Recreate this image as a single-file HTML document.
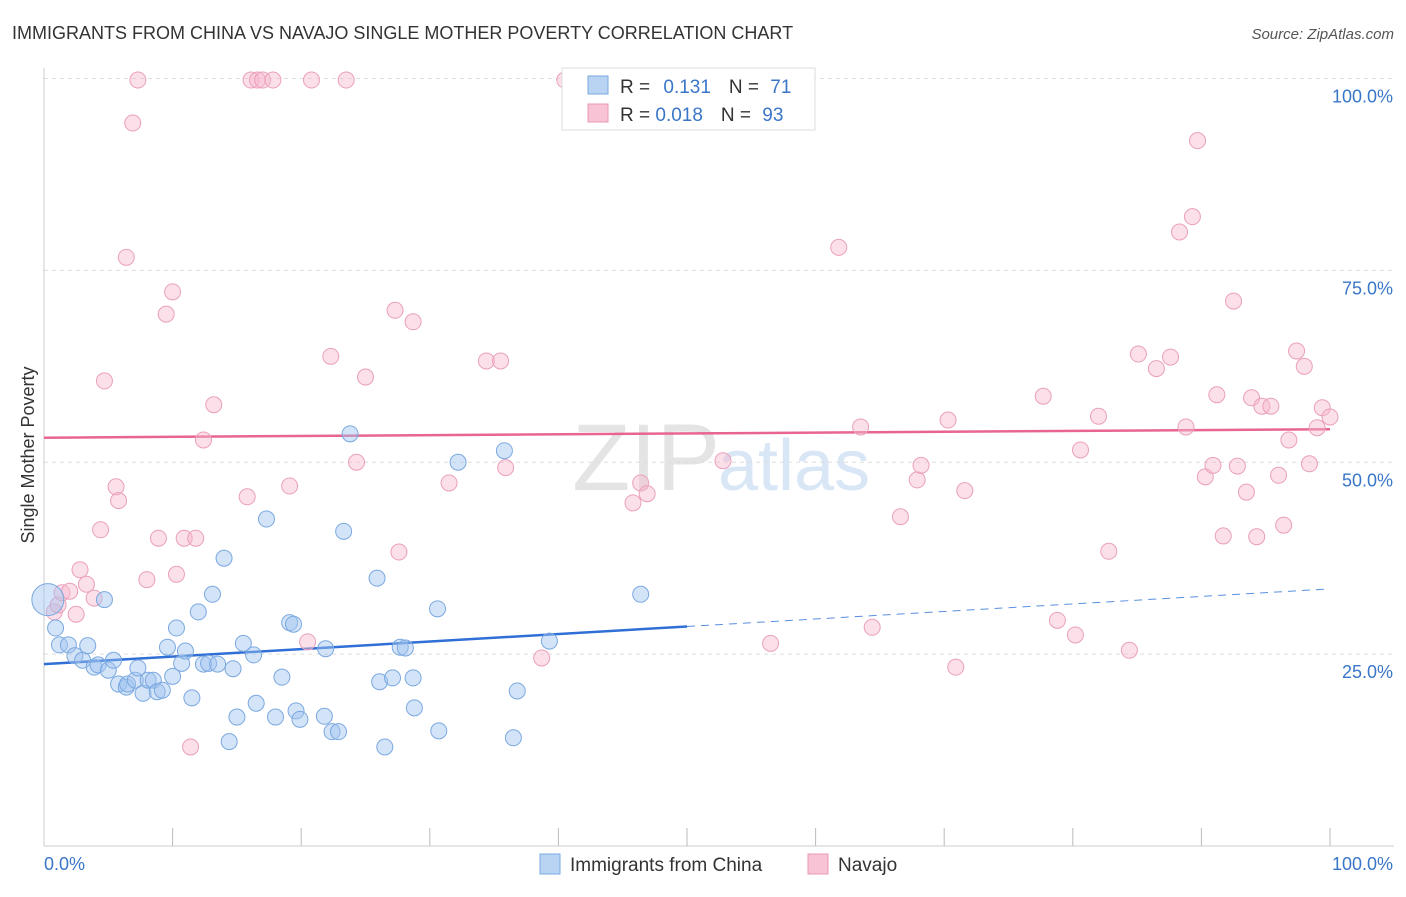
<!DOCTYPE html>
<html><head><meta charset="utf-8"><style>
body{margin:0;background:#fff;font-family:"Liberation Sans",sans-serif;}
svg text{font-family:"Liberation Sans",sans-serif;}
</style></head><body>
<svg id="chart" width="1406" height="892">
<text x="12" y="39" font-size="18" fill="#333">IMMIGRANTS FROM CHINA VS NAVAJO SINGLE MOTHER POVERTY CORRELATION CHART</text>
<text x="1394" y="39" font-size="15" fill="#555" text-anchor="end" font-style="italic">Source: ZipAtlas.com</text>
<text x="720" y="490" font-size="95" fill="#e4e4e4" text-anchor="end" font-family="Liberation Serif">ZIP</text>
<text x="718" y="490" font-size="72" fill="#d8e6f6">atlas</text>
<text transform="translate(34,455) rotate(-90)" font-size="18" fill="#333" text-anchor="middle">Single Mother Poverty</text>
<g id="grid"></g><g id="ticks"></g><g id="lines"></g><g id="pts"></g>
<g>
<rect x="562" y="68" width="253" height="62" fill="#fff" stroke="#ddd"/>
<rect x="588" y="76" width="20" height="18" fill="#b9d3f3" stroke="#7aa8e0"/>
<rect x="588" y="104" width="20" height="18" fill="#f8c3d4" stroke="#e89ab5"/>
<text x="620" y="93" font-size="19" fill="#333">R = <tspan fill="#3a76c8" dx="8">0.131</tspan><tspan dx="18" fill="#333">N = </tspan><tspan fill="#3a76c8" dx="6">71</tspan></text>
<text x="620" y="121" font-size="19" fill="#333">R = <tspan fill="#3a76c8">0.018</tspan><tspan dx="18" fill="#333">N = </tspan><tspan fill="#3a76c8" dx="6">93</tspan></text>
</g>
<g>
<rect x="540" y="854" width="20" height="20" fill="#b9d3f3" stroke="#7aa8e0"/>
<text x="570" y="871" font-size="19" fill="#333">Immigrants from China</text>
<rect x="808" y="854" width="20" height="20" fill="#f8c3d4" stroke="#e89ab5"/>
<text x="838" y="871" font-size="19" fill="#333">Navajo</text>
</g>
</svg>
<script>
const yTicks=[25,50,75,100];
const yTickLabels=["25.0%","50.0%","75.0%","100.0%"];
const xTicks=[0,10,20,30,40,50,60,70,80,90,100];
const blueX=[0.3,0.9,1.2,1.9,2.4,3.0,3.4,3.9,4.2,4.7,5.0,5.4,5.8,6.4,6.5,7.1,7.3,7.7,8.1,8.5,8.8,9.2,9.6,10.0,10.3,10.7,11.0,11.5,12.0,12.4,12.8,13.1,13.5,14.0,14.4,14.7,15.0,15.5,16.3,16.5,17.3,18.0,18.5,19.1,19.4,19.6,19.9,21.8,21.9,22.4,22.9,23.3,23.8,25.9,26.1,26.5,27.1,27.7,28.1,28.7,28.8,30.6,30.7,32.2,35.8,36.5,36.8,39.3,46.4];
const blueY=[32.1,28.4,26.2,26.2,24.8,24.2,26.1,23.3,23.6,32.1,22.9,24.2,21.1,20.7,21.1,21.6,23.2,19.9,21.6,21.6,20.1,20.3,25.9,22.1,28.4,23.8,25.4,19.3,30.5,23.7,23.8,32.8,23.7,37.5,13.6,23.1,16.8,26.4,24.9,18.6,42.6,16.8,22.0,29.1,28.9,17.6,16.5,16.9,25.7,14.9,14.9,41.0,53.7,34.9,21.4,12.9,21.9,25.9,25.8,21.9,18.0,30.9,15.0,50.0,51.5,14.1,20.2,26.7,32.8];
const pinkX=[0.8,1.1,1.4,2.0,2.5,2.8,3.3,3.9,4.4,4.7,5.6,5.8,6.4,6.9,7.3,8.0,8.9,9.5,10.0,10.3,10.9,11.4,11.8,12.4,13.2,15.8,16.1,16.6,17.0,17.8,19.1,20.5,20.8,22.3,23.5,24.3,25.0,27.6,27.3,28.7,31.5,34.4,35.5,35.9,38.7,40.5,45.8,46.4,46.9,52.8,56.5,61.8,63.5,64.4,66.6,67.9,68.2,70.3,70.9,71.6,77.7,78.8,80.2,80.6,82.0,82.8,84.4,85.1,86.5,87.6,88.3,88.8,89.3,89.7,90.3,90.9,91.2,91.7,92.5,92.8,93.5,93.9,94.3,94.7,95.4,96.0,96.4,96.8,97.4,98.0,98.4,99.0,99.4,100.0];
const pinkY=[30.5,31.4,33.0,33.2,30.2,36.0,34.1,32.3,41.2,60.6,46.8,45.0,76.7,94.2,99.8,34.7,40.1,69.3,72.2,35.4,40.1,12.9,40.1,52.9,57.5,45.5,99.8,99.8,99.8,99.8,46.9,26.6,99.8,63.8,99.8,50.0,61.1,38.3,69.8,68.3,47.3,63.2,63.2,49.3,24.5,99.8,44.7,47.3,45.9,50.2,26.4,78.0,54.6,28.5,42.9,47.7,49.6,55.5,23.3,46.3,58.6,29.4,27.5,51.6,56.0,38.4,25.5,64.1,62.2,63.7,80.0,54.6,82.0,91.9,48.1,49.6,58.8,40.4,71.0,49.5,46.1,58.4,40.3,57.3,57.3,48.3,41.8,52.9,64.5,62.5,49.8,54.5,57.1,55.9];
const blueTrend=[23.7,33.5]; // at x=0 and x=100
const pinkTrend=[53.2,54.3];
const NS="http://www.w3.org/2000/svg";
const sx=v=>44+v*12.86, sy=v=>846-v*7.675;
function mk(tag,attrs,parent){const e=document.createElementNS(NS,tag);for(const k in attrs)e.setAttribute(k,attrs[k]);document.getElementById(parent).appendChild(e);return e;}
mk('line',{x1:44,y1:846,x2:1394,y2:846,stroke:'#ccc'},'ticks');
mk('line',{x1:44,y1:68,x2:44,y2:846,stroke:'#ccc'},'ticks');
yTicks.forEach((t,i)=>{
 const l=mk('line',{x1:44,x2:1394,y1:sy(t),y2:sy(t),stroke:'#ddd','stroke-dasharray':'4,4'},'grid');
 
 
 const tx=mk('text',{x:1393,y:sy(t)+24,'font-size':18,fill:'#3a76c8','text-anchor':'end'},'ticks');tx.textContent=yTickLabels[i];
 
 
});
xTicks.forEach(t=>{if(t>0){const l=mk('line',{x1:sx(t),x2:sx(t),y1:828,y2:846,stroke:'#bbb'},'ticks');
 
 }});
let a=mk('text',{x:44,y:870,'font-size':18,fill:'#3a76c8'},'ticks');a.textContent='0.0%';


a=mk('text',{x:1393,y:870,'font-size':18,fill:'#3a76c8','text-anchor':'end'},'ticks');a.textContent='100.0%';


pinkX.forEach((x,i)=>{const c=mk('circle',{cx:sx(x),cy:sy(pinkY[i]),r:8,fill:'rgba(246,184,206,0.45)',stroke:'#eaa0ba','stroke-width':1},'pts');
 
 });
blueX.forEach((x,i)=>{const c=mk('circle',{cx:sx(x),cy:sy(blueY[i]),r:i==0?16:8,fill:'rgba(160,196,240,0.45)',stroke:'#7aa8e0','stroke-width':1},'pts');
 
 });
const by=x=>blueTrend[0]+(blueTrend[1]-blueTrend[0])*x/100;
let l=mk('line',{x1:sx(0),y1:sy(by(0)),x2:sx(50),y2:sy(by(50)),stroke:'#2f6fd6','stroke-width':2.5},'lines');


l=mk('line',{x1:sx(50),y1:sy(by(50)),x2:sx(100),y2:sy(by(100)),stroke:'#5a8fe0','stroke-width':1,'stroke-dasharray':'8,6'},'lines');


l=mk('line',{x1:sx(0),y1:sy(pinkTrend[0]),x2:sx(100),y2:sy(pinkTrend[1]),stroke:'#e8658f','stroke-width':2.5},'lines');


</script>
</body></html>
